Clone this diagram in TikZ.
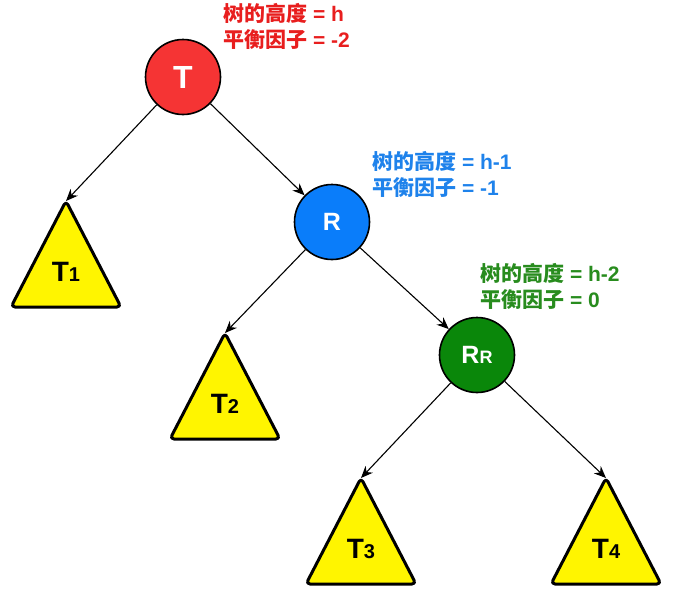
\documentclass[tikz,border=0pt]{standalone}
\usepackage{fontspec}
\setmainfont{Liberation Sans}
\newfontfamily\cjk{Noto Sans CJK SC}
\usetikzlibrary{arrows.meta}

\definecolor{rootred}{RGB}{245,52,52}
\definecolor{rightblue}{RGB}{10,125,250}
\definecolor{leafgreen}{RGB}{10,135,10}
\definecolor{redtext}{RGB}{232,30,30}
\definecolor{bluetext}{RGB}{30,130,235}
\definecolor{greentext}{RGB}{40,140,30}
\definecolor{treeyellow}{RGB}{255,245,0}

\tikzset{
  vertex/.style={circle,draw=black,line width=1.6pt,minimum size=75pt,inner sep=0pt,
                 text=white,font=\bfseries\fontsize{25}{25}\selectfont},
  subtree/.style={draw=black,line width=3pt,fill=treeyellow,rounded corners=4pt,line join=round},
  subname/.style={inner sep=0pt,font=\bfseries\fontsize{28}{28}\selectfont},
  info/.style={anchor=west,align=left,inner sep=0pt,font=\bfseries\fontsize{21}{26}\selectfont},
  edge/.style={-{Stealth[length=12pt,width=10pt]},line width=1.1pt}
}

\begin{document}
\begin{tikzpicture}[x=1pt,y=-1pt]
\useasboundingbox (0,0) rectangle (676,600);

% nodes of the tree
\node[vertex,fill=rootred,font=\bfseries\fontsize{32}{32}\selectfont] (T) at (183,77) {T};
\node[vertex,fill=rightblue] (R) at (332,222) {R};
\node[vertex,fill=leafgreen] (RR) at (477,355) {R{\fontsize{18}{18}\selectfont R}};

% height and balance factor
\node[info,text=redtext] (T-info) at (223,26) {{\cjk 树的高度} = h\\{\cjk 平衡因子} = -2};
\node[info,text=bluetext] (R-info) at (372,174) {{\cjk 树的高度} = h-1\\{\cjk 平衡因子} = -1};
\node[info,text=greentext] (RR-info) at (480,286) {{\cjk 树的高度} = h-2\\{\cjk 平衡因子} = 0};

% subtrees
\foreach \name/\x/\y/\num in {t1/66/201/1, t2/225/333/2, t3/361/478/3, t4/606/478/4} {
  \coordinate (\name-top) at (\x,\y);
  \draw[subtree] (\name-top) -- ++(-55,106) -- ++(110,0) -- cycle;
  \node[subname] (\name) at (\x,\y+71) {T{\fontsize{20}{20}\selectfont\num}};
}

% edges
\draw[edge] (T) -- (t1-top);
\draw[edge] (T) -- (R);
\draw[edge] (R) -- (t2-top);
\draw[edge] (R) -- (RR);
\draw[edge] (RR) -- (t3-top);
\draw[edge] (RR) -- (t4-top);
\end{tikzpicture}
\end{document}
